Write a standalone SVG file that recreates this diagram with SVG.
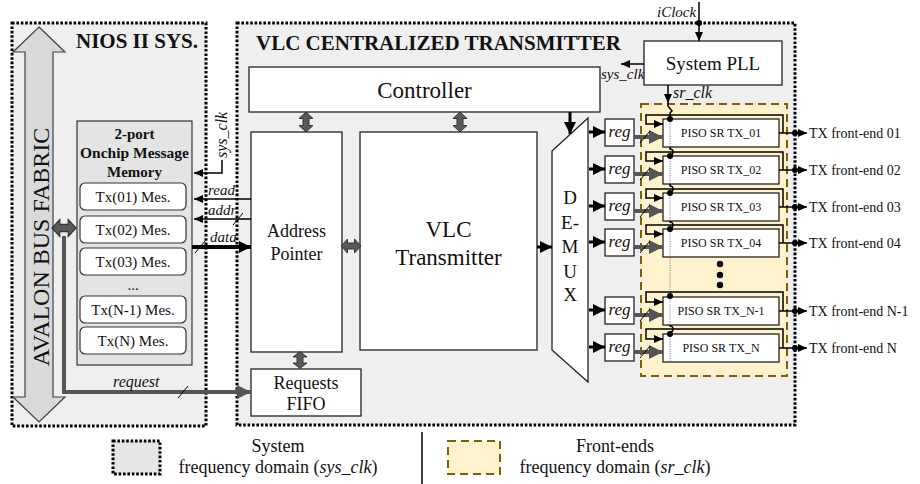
<svg xmlns="http://www.w3.org/2000/svg" width="920" height="484" viewBox="0 0 920 484">
<style>
text{font-family:"Liberation Serif","Times New Roman",serif;fill:#111}
.dom{fill:#efefef;stroke:#000;stroke-width:3;stroke-dasharray:2.6,1.8}
.box{fill:#fff;stroke:#222;stroke-width:1.3}
.tx{fill:#fff;stroke:#333;stroke-width:1.2}
.piso{fill:#fff;stroke:#222;stroke-width:1.3}
.dbl{fill:#595959;stroke:#333;stroke-width:1}
.ln{fill:none;stroke:#000;stroke-width:1.5}
.th{fill:none;stroke:#000;stroke-width:3}
.gr{fill:none;stroke:#555;stroke-width:4}
.sl{stroke:#000;stroke-width:1}
.it{font-style:italic}
.lbl{font-size:15px;font-style:italic}
.pt{font-size:12px}
.fe{font-size:14px}
.mes{font-size:15px}
.reg{font-size:17px;font-style:italic}
.leg{font-size:18px}
</style>
<defs>
<marker id="a" markerUnits="userSpaceOnUse" markerWidth="10" markerHeight="10" refX="9" refY="4" orient="auto"><path d="M0,0 L9,4 L0,8 Z" fill="#000"/></marker>
<marker id="ab" markerUnits="userSpaceOnUse" markerWidth="14" markerHeight="14" refX="12" refY="6" orient="auto"><path d="M0,0 L12,6 L0,12 Z" fill="#000"/></marker>
<marker id="ag" markerUnits="userSpaceOnUse" markerWidth="16" markerHeight="16" refX="14" refY="7" orient="auto"><path d="M0,0 L14,7 L0,14 Z" fill="#555"/></marker>
<path id="dv" d="M0,-10 L7,-3.5 L3,-3.5 L3,3.5 L7,3.5 L0,10 L-7,3.5 L-3,3.5 L-3,-3.5 L-7,-3.5 Z"/>
</defs>

<!-- domains -->
<g id="nios-domain">
<rect class="dom" x="12" y="23" width="194" height="403"/>
<text x="76" y="48" font-size="21" font-weight="bold">NIOS II SYS.</text>
</g>
<g id="vlc-domain">
<rect class="dom" x="237" y="23" width="558" height="402"/>
<text x="256" y="50" font-size="21" font-weight="bold">VLC CENTRALIZED  TRANSMITTER</text>
</g>
<g id="frontend-domain">
<rect x="641" y="104" width="146" height="272" fill="#fff2cc" stroke="#7f6000" stroke-width="2" stroke-dasharray="8,5"/>
</g>

<!-- Avalon bus -->
<g id="avalon">
<path d="M39,27 L65,52 L53,52 L53,397 L65,397 L39,422 L13,397 L25,397 L25,52 L13,52 Z" fill="#d9d9d9" stroke="#404040" stroke-width="1.2"/>
<text transform="translate(49,247) rotate(-90)" text-anchor="middle" font-size="24">AVALON  BUS FABRIC</text>
</g>

<!-- Memory -->
<g id="memory">
<rect x="77" y="121" width="115" height="244" fill="#e4e4e4" stroke="#333" stroke-width="1.2"/>
<text x="134.5" y="139" text-anchor="middle" font-size="15" font-weight="bold">2-port</text>
<text x="134.5" y="158" text-anchor="middle" font-size="15.5" font-weight="bold">Onchip  Message</text>
<text x="134.5" y="177" text-anchor="middle" font-size="15" font-weight="bold">Memory</text>
<rect class="tx" x="80" y="183" width="106" height="27" rx="5"/>
<text class="mes" x="133" y="202" text-anchor="middle">Tx(01) Mes.</text>
<rect class="tx" x="80" y="216" width="106" height="27" rx="5"/>
<text class="mes" x="133" y="235" text-anchor="middle">Tx(02) Mes.</text>
<rect class="tx" x="80" y="248" width="106" height="27" rx="5"/>
<text class="mes" x="133" y="267" text-anchor="middle">Tx(03) Mes.</text>
<text class="mes" x="133" y="290" text-anchor="middle">...</text>
<rect class="tx" x="80" y="296" width="106" height="27" rx="5"/>
<text class="mes" x="133" y="315" text-anchor="middle">Tx(N-1) Mes.</text>
<rect class="tx" x="80" y="327" width="106" height="27" rx="5"/>
<text class="mes" x="133" y="346" text-anchor="middle">Tx(N) Mes.</text>
</g>

<g id="controller">
<rect class="box" x="249" y="67" width="351" height="45"/>
<text x="424.5" y="98" text-anchor="middle" font-size="23">Controller</text>
</g>
<g id="address-pointer">
<rect class="box" x="251" y="132" width="91" height="220"/>
<text x="296.5" y="237" text-anchor="middle" font-size="18">Address</text>
<text x="296.5" y="260" text-anchor="middle" font-size="18">Pointer</text>
</g>
<g id="vlc-transmitter">
<rect class="box" x="360" y="132" width="177" height="218"/>
<text x="448.5" y="237" text-anchor="middle" font-size="23">VLC</text>
<text x="448.5" y="265" text-anchor="middle" font-size="23">Transmitter</text>
</g>
<g id="requests-fifo">
<rect class="box" x="251" y="369" width="110" height="47"/>
<text x="306" y="389" text-anchor="middle" font-size="18">Requests</text>
<text x="306" y="410" text-anchor="middle" font-size="18">FIFO</text>
</g>
<g id="demux">
<path d="M552,151 L588,118 L588,382 L552,350 Z" fill="#fff" stroke="#222" stroke-width="1.3"/>
<text x="570" y="204" text-anchor="middle" font-size="19">D</text>
<text x="570" y="229" text-anchor="middle" font-size="19">E-</text>
<text x="570" y="253" text-anchor="middle" font-size="19">M</text>
<text x="570" y="278" text-anchor="middle" font-size="19">U</text>
<text x="570" y="301" text-anchor="middle" font-size="19">X</text>
</g>
<g id="system-pll">
<rect class="box" x="644" y="41" width="138" height="44"/>
<text x="713" y="70" text-anchor="middle" font-size="19">System PLL</text>
</g>

<!-- registers -->
<g id="reg1"><rect class="box" x="605" y="119" width="29" height="27"/><text class="reg" x="619.5" y="137" text-anchor="middle">reg</text></g>
<g id="reg2"><rect class="box" x="605" y="156" width="29" height="27"/><text class="reg" x="619.5" y="174" text-anchor="middle">reg</text></g>
<g id="reg3"><rect class="box" x="605" y="193" width="29" height="27"/><text class="reg" x="619.5" y="211" text-anchor="middle">reg</text></g>
<g id="reg4"><rect class="box" x="605" y="229" width="29" height="27"/><text class="reg" x="619.5" y="247" text-anchor="middle">reg</text></g>
<g id="regN1"><rect class="box" x="605" y="297" width="29" height="27"/><text class="reg" x="619.5" y="315" text-anchor="middle">reg</text></g>
<g id="regN"><rect class="box" x="605" y="334" width="29" height="27"/><text class="reg" x="619.5" y="352" text-anchor="middle">reg</text></g>

<!-- PISO shift registers -->
<g id="piso1"><rect class="piso" x="663" y="119" width="116" height="28"/><text class="pt" x="721" y="137" text-anchor="middle">PISO SR TX_01</text></g>
<g id="piso2"><rect class="piso" x="663" y="156" width="116" height="28"/><text class="pt" x="721" y="174" text-anchor="middle">PISO SR TX_02</text></g>
<g id="piso3"><rect class="piso" x="663" y="193" width="116" height="28"/><text class="pt" x="721" y="211" text-anchor="middle">PISO SR TX_03</text></g>
<g id="piso4"><rect class="piso" x="663" y="229" width="116" height="28"/><text class="pt" x="721" y="247" text-anchor="middle">PISO SR TX_04</text></g>
<g id="pisoN1"><rect class="piso" x="663" y="297" width="116" height="28"/><text class="pt" x="721" y="315" text-anchor="middle">PISO SR TX_N-1</text></g>
<g id="pisoN"><rect class="piso" x="663" y="334" width="116" height="28"/><text class="pt" x="721" y="352" text-anchor="middle">PISO SR TX_N</text></g>

<g id="ellipsis">
<circle cx="720" cy="264" r="3.2" fill="#000"/><circle cx="720" cy="275" r="3.2" fill="#000"/><circle cx="720" cy="285" r="3.2" fill="#000"/>
</g>

<!-- connectors -->
<g id="connectors">
<use href="#dv" class="dbl" transform="translate(306,122)"/>
<use href="#dv" class="dbl" transform="translate(460,122)"/>
<use href="#dv" class="dbl" transform="translate(351,246) rotate(90)"/>
<use href="#dv" class="dbl" transform="translate(300,360) scale(1,0.85)"/>
<use href="#dv" class="dbl" transform="translate(64,228) rotate(90) scale(1.2,1.2)"/>
<path class="gr" d="M64,236 V392 H237" />
<path class="gr" d="M235,392 H251" marker-end="url(#ag)"/>
<line class="sl" x1="178" y1="398" x2="188" y2="386"/>
<text class="it" x="113" y="387" font-size="16">request</text>
<path class="ln" d="M222,160 V173 H194" marker-end="url(#a)"/>
<text class="it" transform="translate(227,158) rotate(-90)" font-size="16">sys_clk</text>
<path class="ln" d="M251,199 H194" marker-end="url(#a)"/>
<text class="lbl" x="208" y="195">read</text>
<path class="ln" d="M251,219 H194" marker-end="url(#a)"/>
<line class="sl" x1="233" y1="225" x2="243" y2="213"/>
<text class="lbl" x="208" y="215">addr</text>
<path d="M192,247 H251" stroke="#000" stroke-width="4" marker-end="url(#ab)"/>
<line class="sl" x1="195" y1="253" x2="205" y2="241"/>
<text class="lbl" x="210" y="242">data</text>
<path class="th" d="M537,247 H552" marker-end="url(#ab)"/>
<path class="th" d="M570,112 V134" marker-end="url(#ab)"/>
<path class="ln" d="M699,2 V41" marker-end="url(#a)"/>
<circle cx="699" cy="23" r="3" fill="#000"/>
<text class="lbl" x="657" y="17">iClock</text>
<path class="ln" d="M644,64 H621" marker-end="url(#a)"/>
<text class="lbl" x="601" y="79">sys_clk</text>
<path class="ln" d="M668,85 V103" marker-end="url(#a)"/>
<text class="it" x="673" y="98" font-size="16">sr_clk</text>
<path class="ln" d="M668,103 L668,106 L672,111 L670,113 V119"/>
<path class="ln" d="M670,147 V149 a3,3 0 0 1 0,6 V156"/>
<path class="ln" d="M670,184 V186 a3,3 0 0 1 0,6 V193"/>
<path class="ln" d="M670,221 V222 a3,3 0 0 1 0,6 V229"/>
<path class="ln" d="M670,325 V326 a3,3 0 0 1 0,6 V334"/>
<path d="M670,119 V147 M670,156 V184 M670,193 V221 M670,229 V297 M670,297 V325 M670,334 V362" stroke="#777" stroke-width="0.9" stroke-dasharray="1.2,1.2" fill="none"/>
<circle cx="670" cy="119" r="3" fill="#000"/>
<circle cx="670" cy="156" r="3" fill="#000"/>
<circle cx="670" cy="193" r="3" fill="#000"/>
<circle cx="670" cy="229" r="3" fill="#000"/>
<circle cx="670" cy="296" r="3" fill="#000"/>
<circle cx="670" cy="334" r="3" fill="#000"/>
<g id="row1">
<path class="th" d="M589,132 H605" marker-end="url(#ab)"/>
<path class="gr" d="M634,137 H650"/><path class="gr" d="M648,137 H663" marker-end="url(#ag)"/>
<line class="sl" x1="640" y1="143" x2="650" y2="131"/>
<path class="ln" d="M783,133 V115 H646 V124 H663" marker-end="url(#a)"/>
<path class="ln" d="M779,133 H807" marker-end="url(#a)"/>
<circle cx="795" cy="133" r="3" fill="#000"/>
<text class="fe" x="809" y="138">TX front-end 01</text>
</g>
<g id="row2">
<path class="th" d="M589,169 H605" marker-end="url(#ab)"/>
<path class="gr" d="M634,174 H650"/><path class="gr" d="M648,174 H663" marker-end="url(#ag)"/>
<line class="sl" x1="640" y1="180" x2="650" y2="168"/>
<path class="ln" d="M783,170 V152 H646 V161 H663" marker-end="url(#a)"/>
<path class="ln" d="M779,170 H807" marker-end="url(#a)"/>
<circle cx="795" cy="170" r="3" fill="#000"/>
<text class="fe" x="809" y="175">TX front-end 02</text>
</g>
<g id="row3">
<path class="th" d="M589,206 H605" marker-end="url(#ab)"/>
<path class="gr" d="M634,211 H650"/><path class="gr" d="M648,211 H663" marker-end="url(#ag)"/>
<line class="sl" x1="640" y1="217" x2="650" y2="205"/>
<path class="ln" d="M783,207 V189 H646 V198 H663" marker-end="url(#a)"/>
<path class="ln" d="M779,207 H807" marker-end="url(#a)"/>
<circle cx="795" cy="207" r="3" fill="#000"/>
<text class="fe" x="809" y="212">TX front-end 03</text>
</g>
<g id="row4">
<path class="th" d="M589,242 H605" marker-end="url(#ab)"/>
<path class="gr" d="M634,247 H650"/><path class="gr" d="M648,247 H663" marker-end="url(#ag)"/>
<line class="sl" x1="640" y1="253" x2="650" y2="241"/>
<path class="ln" d="M783,243 V225 H646 V234 H663" marker-end="url(#a)"/>
<path class="ln" d="M779,243 H807" marker-end="url(#a)"/>
<circle cx="795" cy="243" r="3" fill="#000"/>
<text class="fe" x="809" y="248">TX front-end 04</text>
</g>
<g id="rowN1">
<path class="th" d="M589,310 H605" marker-end="url(#ab)"/>
<path class="gr" d="M634,315 H650"/><path class="gr" d="M648,315 H663" marker-end="url(#ag)"/>
<line class="sl" x1="640" y1="321" x2="650" y2="309"/>
<path class="ln" d="M783,311 V292 H646 V302 H663" marker-end="url(#a)"/>
<path class="ln" d="M779,311 H807" marker-end="url(#a)"/>
<circle cx="795" cy="311" r="3" fill="#000"/>
<text class="fe" x="809" y="316">TX front-end N-1</text>
</g>
<g id="rowN">
<path class="th" d="M589,347 H605" marker-end="url(#ab)"/>
<path class="gr" d="M634,352 H650"/><path class="gr" d="M648,352 H663" marker-end="url(#ag)"/>
<line class="sl" x1="640" y1="358" x2="650" y2="346"/>
<path class="ln" d="M783,348 V329 H646 V339 H663" marker-end="url(#a)"/>
<path class="ln" d="M779,348 H807" marker-end="url(#a)"/>
<circle cx="795" cy="348" r="3" fill="#000"/>
<text class="fe" x="809" y="353">TX front-end N</text>
</g>
</g>

<!-- legend -->
<g id="legend">
<rect x="113" y="441" width="47" height="33" fill="#e6e6e6" stroke="#000" stroke-width="3" stroke-dasharray="2.6,1.8"/>
<text class="leg" x="278" y="452" text-anchor="middle">System</text>
<text class="leg" x="278" y="473" text-anchor="middle">frequency domain (<tspan font-style="italic">sys_clk</tspan>)</text>
<line x1="422" y1="432" x2="422" y2="484" stroke="#000" stroke-width="1.5"/>
<rect x="448" y="441" width="52" height="33" fill="#fff2cc" stroke="#7f6000" stroke-width="2" stroke-dasharray="8,5"/>
<text class="leg" x="615" y="452" text-anchor="middle">Front-ends</text>
<text class="leg" x="615" y="473" text-anchor="middle">frequency domain (<tspan font-style="italic">sr_clk</tspan>)</text>
</g>
</svg>
